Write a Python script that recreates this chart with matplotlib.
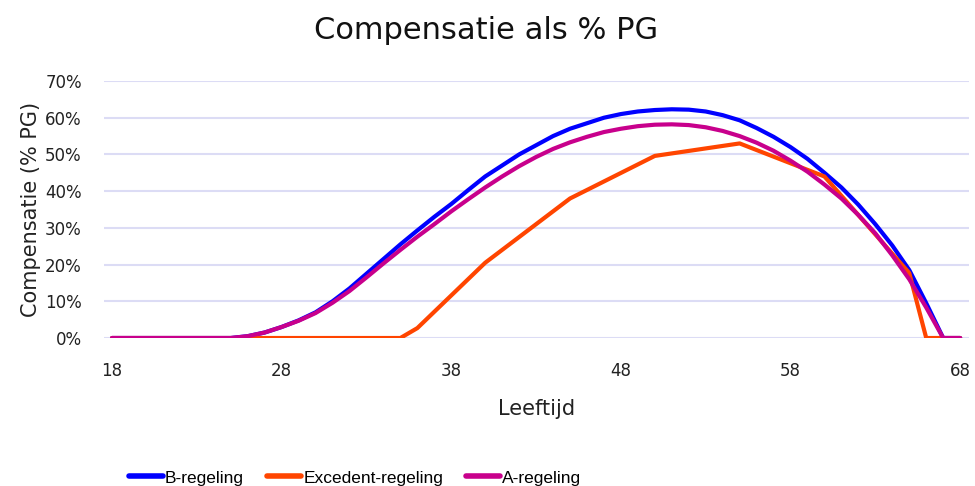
import matplotlib
matplotlib.use('Agg')
import matplotlib.pyplot as plt
from matplotlib.ticker import FuncFormatter


# Leeftijden (jaarlijks) voor de B- en A-regeling
AGES = list(range(18, 69))

# Compensatie in % PG
B_REGELING = [0, 0, 0, 0, 0, 0, 0, 0,                       # 18-25
              0.5, 1.5, 3.0, 4.8, 7.0, 10.0, 13.5, 17.5,    # 26-33
              21.5, 25.5, 29.3, 33.0, 36.5, 40.3, 44.0,     # 34-40
              47.0, 50.0, 52.5, 55.0, 57.0, 58.5, 60.0,     # 41-47
              61.0, 61.7, 62.1, 62.3, 62.2, 61.7, 60.7,     # 48-54
              59.3, 57.2, 54.8, 52.0, 48.8, 45.0, 41.0,     # 55-61
              36.3, 31.0, 25.2, 18.5, 9.5, 0, 0]            # 62-68

A_REGELING = [0, 0, 0, 0, 0, 0, 0, 0,                       # 18-25
              0.5, 1.5, 3.0, 4.7, 6.8, 9.6, 12.8, 16.5,     # 26-33
              20.3, 24.0, 27.6, 31.0, 34.5, 37.8, 41.0,     # 34-40
              44.0, 46.8, 49.3, 51.5, 53.3, 54.8, 56.1,     # 41-47
              57.0, 57.7, 58.1, 58.2, 58.0, 57.4, 56.4,     # 48-54
              55.0, 53.2, 51.0, 48.3, 45.3, 41.8, 38.0,     # 55-61
              33.5, 28.5, 22.5, 16.0, 8.3, 0, 0]            # 62-68

# Excedent-regeling: knikpunten van de gebroken lijn
EXC_AGES = [18, 35, 36, 40, 45, 50, 55, 60, 65, 66, 68]
EXC_REGELING = [0, 0, 2.7, 20.5, 38.0, 49.6, 53.0, 44.0, 17.7, 0, 0]

SERIES = [
    ('B-regeling', AGES, B_REGELING, '#0000FF'),
    ('Excedent-regeling', EXC_AGES, EXC_REGELING, '#FF4500'),
    ('A-regeling', AGES, A_REGELING, '#C8008C'),
]

X_TICKS = [18, 28, 38, 48, 58, 68]
Y_TICKS = [0, 10, 20, 30, 40, 50, 60, 70]


def main():
    plt.rcParams['font.family'] = ['DejaVu Sans']

    fig = plt.figure(figsize=(9.75, 4.86), dpi=100)
    ax = fig.add_axes([0.1067, 0.3045, 0.8873, 0.5288])

    for name, xs, ys, color in SERIES:
        ax.plot(xs, ys, color=color, lw=3, label=name,
                solid_capstyle='round', solid_joinstyle='round')

    # ── Assen en raster ──────────────────────────────────────────────
    ax.set_xlim(17.53, 68.53)
    ax.set_ylim(0, 70)
    ax.set_xticks(X_TICKS)
    ax.set_yticks(Y_TICKS)
    ax.yaxis.set_major_formatter(FuncFormatter(lambda v, _: f'{v:.0f}%'))
    ax.tick_params(axis='both', length=0, labelsize=12, labelcolor='#222222')
    ax.tick_params(axis='x', pad=17)
    ax.tick_params(axis='y', pad=16)
    ax.grid(axis='y', color='#DCDCF5', lw=1.5)
    ax.set_axisbelow(True)
    for spine in ax.spines.values():
        spine.set_visible(False)

    ax.set_xlabel('Leeftijd', fontsize=15, color='#222222', labelpad=14)
    ax.set_ylabel('Compensatie (% PG)', fontsize=15, color='#222222',
                  labelpad=3)

    fig.text(0.499, 0.938, 'Compensatie als % PG', fontsize=22,
             ha='center', va='center', color='#111111')

    # Legenda onderaan (valt deels buiten het beeld)
    leg = fig.legend(loc='center', bbox_to_anchor=(0.364, 0.0165),
                     ncol=3, frameon=False, handlelength=2.0,
                     handletextpad=0.1, columnspacing=1.3,
                     prop={'family': ['Liberation Sans'], 'size': 12.5})
    for line in leg.get_lines():
        line.set_linewidth(4)

    fig.savefig('out.png', dpi=100)


if __name__ == '__main__':
    main()
